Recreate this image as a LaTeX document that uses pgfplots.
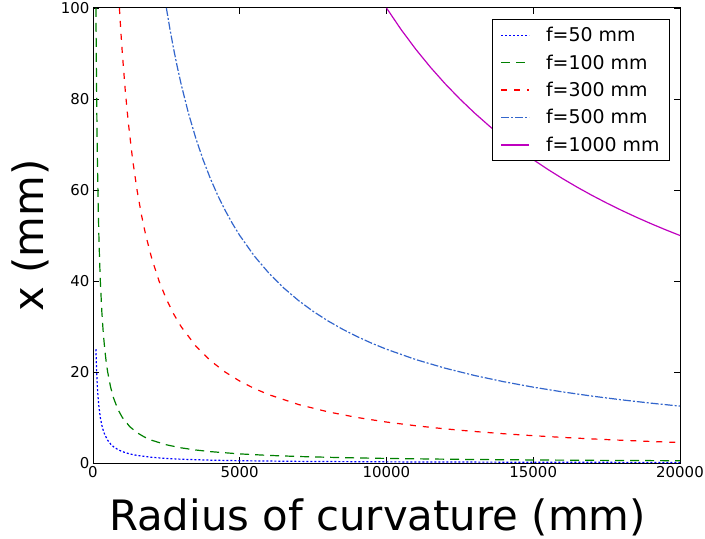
\documentclass[border=0pt]{standalone}
\usepackage{pgfplots}
\pgfplotsset{compat=1.18}
\usepackage{fontspec}
\setmainfont{DejaVu Sans}
\definecolor{cblue}{rgb}{0,0,1}
\definecolor{cgreen}{rgb}{0,0.5,0}
\definecolor{cred}{rgb}{1,0,0}
\definecolor{csteel}{HTML}{3366CC}
\definecolor{cmag}{rgb}{0.75,0,0.75}
\begin{document}
\begin{tikzpicture}
\useasboundingbox (-93bp,-76bp) rectangle (612bp,463bp);
\begin{axis}[
  scale only axis,
  width=587bp, height=455bp,
  xmin=0, xmax=20000, ymin=0, ymax=100,
  xtick={0,5000,10000,15000,20000},
  ytick={0,20,40,60,80,100},
  scaled x ticks=false,
  xticklabel style={/pgf/number format/fixed,/pgf/number format/1000 sep={}},
  /pgf/number format/assume math mode=true,
  tick label style={font=\fontsize{15}{17}\selectfont},
  tick align=inside,
  major tick length=6bp,
  axis line style={line width=1pt},
  every tick/.style={black, line width=0.8pt},
  xlabel={Radius of curvature (mm)},
  ylabel={x (mm)},
  label style={font=\fontsize{42}{46}\selectfont, inner sep=0pt},
  xlabel style={at={(axis description cs:0.5,0)}, anchor=base, yshift=-67bp, xshift=-9bp},
  ylabel style={at={(axis description cs:-0.138,0.5)}, anchor=north},
  legend style={at={(1,1)}, anchor=north east, xshift=-10bp, yshift=-11bp,
    font=\fontsize{19}{22}\selectfont, row sep=7.5bp, column sep=14bp,
    inner xsep=8bp, inner ysep=6bp, line width=0.8pt},
  legend cell align=left,
  legend image code/.code={\draw[#1, line width=1.5pt] (0bp,0bp) -- (28bp,0bp);},
  every axis plot/.append style={line width=1.2pt},
]
\addplot[color=cblue, dash pattern=on 2bp off 2bp] coordinates {
(100,25) (110,22.727) (125,20) (140,17.857) (150,16.667) (175,14.286) (200,12.5) (250,10) (300,8.333) (350,7.143) (400,6.25) (500,5) (600,4.167) (700,3.571) (850,2.941) (1000,2.5) (1250,2) (1500,1.667) (2000,1.25) (2500,1) (3000,0.833) (4000,0.625) (5000,0.5) (7000,0.357) (10000,0.25) (15000,0.167) (20000,0.125)};
\addlegendentry{f=50 mm}
\addplot[color=cgreen, dash pattern=on 9bp off 6bp] coordinates {
(100,100) (110,90.909) (125,80) (140,71.429) (150,66.667) (175,57.143) (200,50) (225,44.444) (250,40) (300,33.333) (350,28.571) (400,25) (450,22.222) (500,20) (600,16.667) (700,14.286) (850,11.765) (1000,10) (1250,8) (1500,6.667) (1750,5.714) (2000,5) (2500,4) (3000,3.333) (3500,2.857) (4000,2.5) (5000,2) (6000,1.667) (7000,1.429) (8500,1.176) (10000,1) (12500,0.8) (15000,0.667) (17500,0.571) (20000,0.5)};
\addlegendentry{f=100 mm}
\addplot[color=cred, dash pattern=on 6bp off 7bp] coordinates {
(900,100) (950,94.737) (1000,90) (1100,81.818) (1200,75) (1350,66.667) (1500,60) (1650,54.545) (1800,50) (2000,45) (2250,40) (2500,36) (2750,32.727) (3000,30) (3500,25.714) (4000,22.5) (4500,20) (5000,18) (5500,16.364) (6000,15) (7000,12.857) (8000,11.25) (9000,10) (10000,9) (11000,8.182) (12000,7.5) (13000,6.923) (14000,6.429) (15000,6) (16000,5.625) (17000,5.294) (18000,5) (19000,4.737) (20000,4.5)};
\addlegendentry{f=300 mm}
\addplot[color=csteel, dash pattern=on 8bp off 2bp on 2bp off 2bp] coordinates {
(2500,100) (2625,95.238) (2750,90.909) (2875,86.957) (3000,83.333) (3250,76.923) (3500,71.429) (3750,66.667) (4000,62.5) (4250,58.824) (4500,55.556) (4750,52.632) (5000,50) (5500,45.455) (6000,41.667) (6500,38.462) (7000,35.714) (7500,33.333) (8000,31.25) (8500,29.412) (9000,27.778) (9500,26.316) (10000,25) (11000,22.727) (12000,20.833) (13000,19.231) (14000,17.857) (15000,16.667) (16000,15.625) (17000,14.706) (18000,13.889) (19000,13.158) (20000,12.5)};
\addlegendentry{f=500 mm}
\addplot[color=cmag, solid] coordinates {
(10000,100) (10500,95.238) (11000,90.909) (11500,86.957) (12000,83.333) (12500,80) (13000,76.923) (13500,74.074) (14000,71.429) (14500,68.966) (15000,66.667) (15500,64.516) (16000,62.5) (16500,60.606) (17000,58.824) (17500,57.143) (18000,55.556) (18500,54.054) (19000,52.632) (19500,51.282) (20000,50)};
\addlegendentry{f=1000 mm}
\end{axis}
\end{tikzpicture}
\end{document}
